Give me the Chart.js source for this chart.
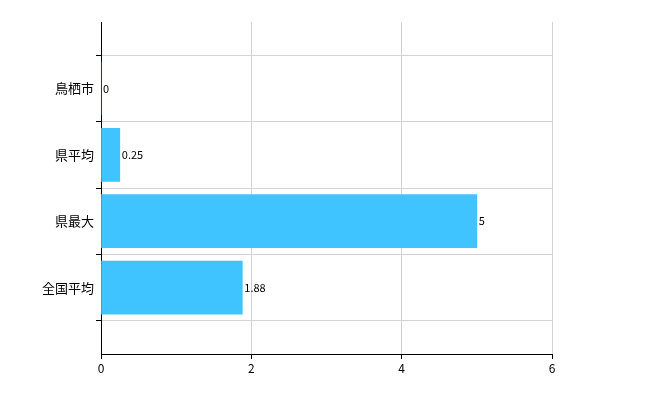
<!DOCTYPE html>
<html><head><meta charset="utf-8">
<script src="https://cdn.jsdelivr.net/npm/chart.js@4"></script>
<style>html,body{margin:0;padding:0;background:#fff}#w{width:650px;height:400px}</style>
</head><body><div id="w"><canvas id="c"></canvas></div>
<script>
const categories = ['', '鳥栖市', '県平均', '県最大', '全国平均', ''];
const values = [null, 0, 0.25, 5, 1.88, null];
const valueLabels = ['', '0', '0.25', '5', '1.88', ''];
const xTicks = [0, 2, 4, 6];
const font = "'Noto Sans CJK JP', 'Noto Sans', sans-serif";
const labelPlugin = {
  id: 'vl',
  afterDatasetsDraw(chart) {
    const ctx = chart.ctx, meta = chart.getDatasetMeta(0);
    ctx.save(); ctx.font = '11px ' + font; ctx.fillStyle = '#000';
    ctx.textBaseline = 'middle'; ctx.textAlign = 'left';
    meta.data.forEach((b, i) => {
      if (values[i] === null) return;
      ctx.fillText(valueLabels[i], b.x + 2, b.y);
    });
    ctx.restore();
  }
};
new Chart(document.getElementById('c'), {
  type: 'bar',
  data: { labels: categories, datasets: [{ data: values, backgroundColor: '#40c4ff', barThickness: 53 }] },
  options: {
    indexAxis: 'y', responsive: true, maintainAspectRatio: false, animation: false,
    layout: { padding: { left: 0, right: 98, top: 22, bottom: 18 } },
    plugins: { legend: { display: false }, tooltip: { enabled: false } },
    scales: {
      y: {
        offset: false,
        afterFit(s) { s.width = 101; },
        grid: { color: '#d3d3d3', tickColor: '#000', tickLength: 5 },
        border: { color: '#000' },
        ticks: { color: '#000', font: { family: font, size: 13 }, padding: 2 }
      },
      x: {
        min: 0, max: 6,
        afterBuildTicks(s) { s.ticks = xTicks.map(v => ({ value: v })); },
        afterFit(s) { s.height = 28; },
        grid: { color: '#d3d3d3', tickColor: '#000', tickLength: 5 },
        border: { color: '#000' },
        ticks: { color: '#000', font: { family: font, size: 12 }, padding: 2 }
      }
    }
  },
  plugins: [labelPlugin]
});
</script></body></html>
